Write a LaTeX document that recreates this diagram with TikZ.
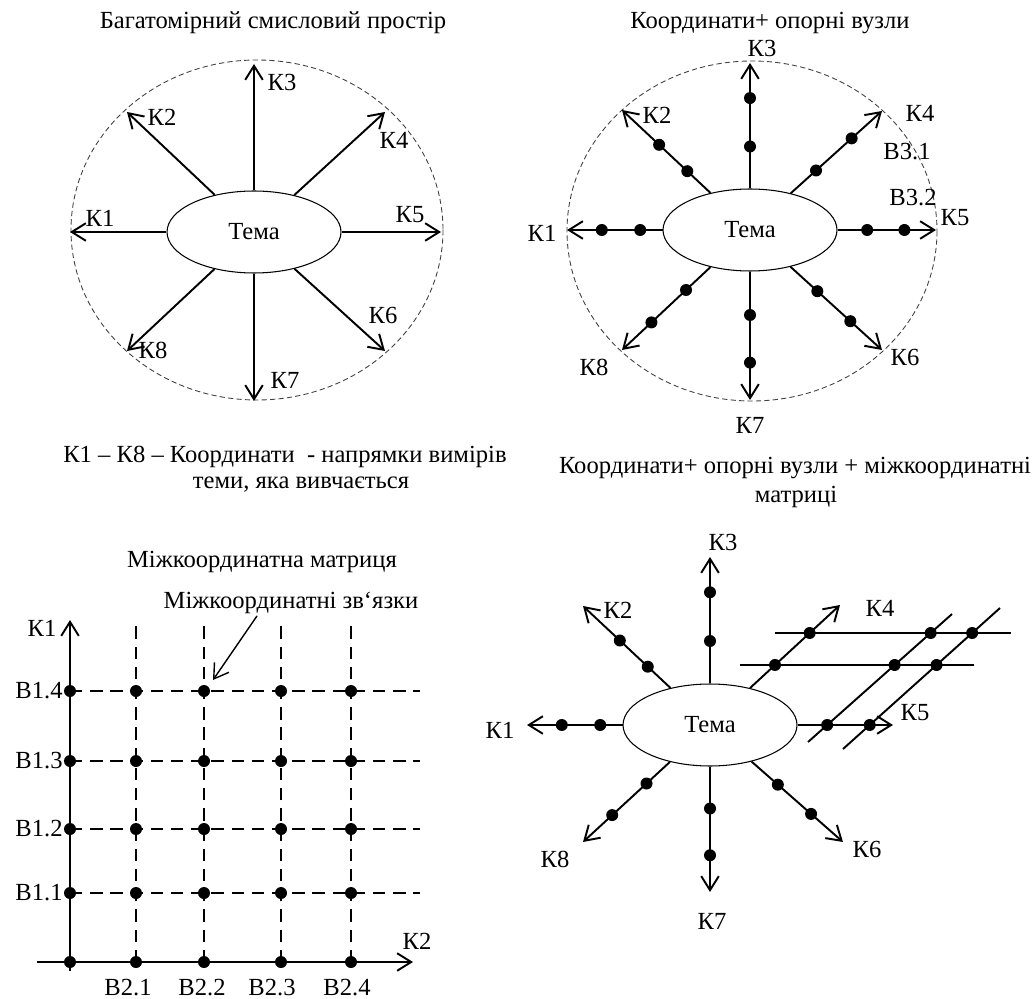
\documentclass[tikz,border=0pt]{standalone}
\usepackage{fontspec}
\setmainfont{Liberation Serif}
\usetikzlibrary{arrows.meta,calc,shapes.geometric}

\begin{document}
\begin{tikzpicture}[x=0.02cm,y=-0.02cm,
  every node/.style={font=\fontsize{14}{16}\selectfont,inner sep=1pt},
  coord/.style={line width=1.1pt,-{Straight Barb[length=8pt,width=10pt]}},
  tema/.style={ellipse,draw,line width=0.6pt,minimum width=3.48cm,minimum height=1.64cm},
  sphere/.style={dash pattern=on 3pt off 1.8pt,line width=0.5pt,black!75},
  link/.style={dash pattern=on 7pt off 4.5pt,line width=1.1pt},
  vuzol/.style={fill=black}]
  \useasboundingbox (0,0) rectangle (1033,999);

  % Panel 1: multidimensional space
  \node (t1) at (273,23) {Багатомірний смисловий простір};
  \draw[sphere] (257,230) ellipse [x radius=186,y radius=170];
  \node[tema] (tema1) at (254,232) {Тема};
  \foreach \k/\dx/\dy in {1/-184/0,2/-127/-120,3/0/-168,4/131/-120,5/187/0,6/131/119,7/0/169,8/-127/119}
    \coordinate (a1k\k) at ($(tema1)+(\dx,\dy)$);
  \foreach \k in {1,...,8}
    \draw[coord] (tema1) -- (a1k\k);
  \foreach \k/\lx/\ly in {1/100/218,2/162/117,3/282/82,4/394/140,5/410/215,6/383/315,7/285/380,8/153/350}
    \node (l1k\k) at (\lx,\ly) {К\k};

  % Panel 2: coordinates + support nodes
  \node (t2) at (770,23) {Координати+ опорні вузли};
  \draw[sphere] (752,231) ellipse [x radius=185,y radius=170];
  \node[tema] (tema2) at (750,230) {Тема};
  \foreach \k/\dx/\dy in {1/-183/0,2/-128/-120,3/0/-167,4/132/-119,5/186/0,6/132/120,7/0/170,8/-128/120}
    \coordinate (b2k\k) at ($(tema2)+(\dx,\dy)$);
  \foreach \k in {1,...,8}
    \draw[coord] (tema2) -- (b2k\k);
  \foreach \k/\a/\b in {1/0.6/0.81,2/0.49/0.71,3/0.5/0.79,4/0.5/0.77,5/0.63/0.83,6/0.51/0.76,7/0.5/0.78,8/0.5/0.77}{
    \fill[vuzol] ($(tema2)!\a!(b2k\k)$) circle (6);
    \fill[vuzol] ($(tema2)!\b!(b2k\k)$) circle (6);
  }
  \foreach \k/\lx/\ly in {1/542/233,2/657/115,3/762/48,4/920/113,5/955/218,6/905/357,7/750/425,8/594/367}
    \node (l2k\k) at (\lx,\ly) {К\k};
  \node (b31) at (907,152) {В3.1};
  \node (b32) at (913,198) {В3.2};

  % Panel 3: caption
  \node (t3a) at (285,457) {К1 – К8 – Координати\ \ - напрямки вимірів};
  \node (t3b) at (301,485) {теми, яка вивчається};

  % Panel 3: inter-coordinate matrix
  \node (t4) at (262,562) {Міжкоординатна матриця};
  \node (zv) at (291,603) {Міжкоординатні зв‘язки};
  \foreach \i/\x in {0/70,1/136,2/204,3/281,4/351}
    \foreach \j/\y in {0/962,1/893,2/829,3/761,4/691}
      \coordinate (m\i\j) at (\x,\y);
  \coordinate (hend) at (420,0);
  \coordinate (vtop) at (0,623);
  \foreach \j in {1,...,4}
    \draw[link] (m0\j) -- (m0\j -| hend);
  \foreach \i in {1,...,4}
    \draw[link] (m\i0) -- (m\i0 |- vtop);
  \coordinate (k1foot) at (70,971);
  \coordinate (k1tip) at (70,620);
  \coordinate (k2foot) at (37,962);
  \coordinate (k2tip) at (413,962);
  \draw[coord] (k1foot) -- (k1tip);
  \draw[coord] (k2foot) -- (k2tip);
  \foreach \i in {0,...,4}
    \foreach \j in {0,...,4}
      \fill[vuzol] (m\i\j) circle (6);
  \coordinate (zvtip) at (213,680);
  \draw[line width=0.8pt,-{Straight Barb[length=8pt,width=10pt]}] ([xshift=-0.68cm]zv.south) -- (zvtip);
  \node (g1) at (42,628) {К1};
  \node (g2) at (417,941) {К2};
  \foreach \j/\y in {1/893,2/829,3/761,4/691}
    \node (v1\j) at (39,\y) {В1.\j};
  \foreach \i/\x in {1/128,2/202,3/272,4/347}
    \node (v2\i) at (\x,988) {В2.\i};

  % Panel 4: coordinates + nodes + matrices
  \node (t5a) at (795,468) {Координати+ опорні вузли + міжкоординатні};
  \node (t5b) at (796,497) {матриці};
  \node[tema] (tema4) at (710,725) {Тема};
  \foreach \k/\dx/\dy in {1/-183/0,2/-127/-119,3/0/-168,4/130/-120,5/183/0,6/133/117,7/0/167,8/-127/117}
    \coordinate (c4k\k) at ($(tema4)+(\dx,\dy)$);
  \foreach \k in {1,...,8}
    \draw[coord] (tema4) -- (c4k\k);
  \foreach \k/\a/\b in {1/0.6/0.81,2/0.49/0.71,3/0.5/0.79,6/0.51/0.76,7/0.5/0.78,8/0.5/0.77}{
    \fill[vuzol] ($(tema4)!\a!(c4k\k)$) circle (6);
    \fill[vuzol] ($(tema4)!\b!(c4k\k)$) circle (6);
  }
  \coordinate (h1a) at (775,633);
  \coordinate (h1b) at (1011,633);
  \coordinate (h2a) at (740,665);
  \coordinate (h2b) at (974,665);
  \coordinate (da1) at (808,742);
  \coordinate (da2) at (952,614);
  \coordinate (db1) at (843,749);
  \coordinate (db2) at (1000,608);
  \foreach \p/\q in {h1a/h1b,h2a/h2b,da1/da2,db1/db2}
    \draw[line width=1.1pt] (\p) -- (\q);
  \foreach \p/\q in {h1a/h1b,h2a/h2b}{
    \fill[vuzol] (intersection of tema4--c4k4 and \p--\q) circle (6);
    \fill[vuzol] (intersection of da1--da2 and \p--\q) circle (6);
    \fill[vuzol] (intersection of db1--db2 and \p--\q) circle (6);
  }
  \fill[vuzol] (intersection of tema4--c4k5 and da1--da2) circle (6);
  \fill[vuzol] (intersection of tema4--c4k5 and db1--db2) circle (6);
  \foreach \k/\lx/\ly in {1/500/730,2/618/610,3/723/542,4/880/608,5/915/713,6/867/849,7/712/921,8/555/859}
    \node (l4k\k) at (\lx,\ly) {К\k};
\end{tikzpicture}
\end{document}
